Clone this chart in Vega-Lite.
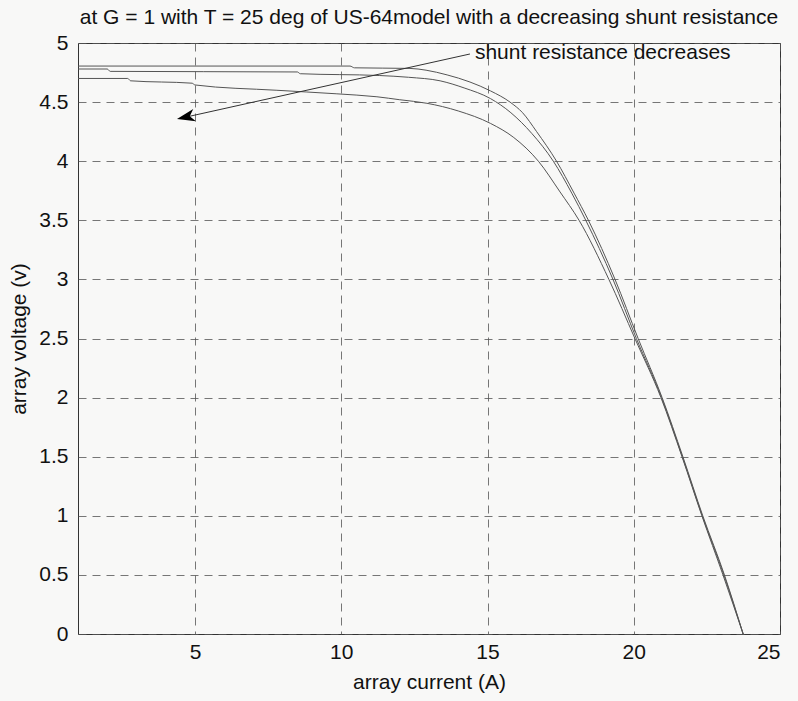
{
  "$schema": "https://vega.github.io/schema/vega-lite/v6.json",
  "width": 702,
  "height": 591,
  "autosize": {"type": "none"},
  "padding": {"left": 78, "top": 43, "right": 18, "bottom": 67},
  "background": "#f8f8f7",
  "title": {
    "text": "at G = 1 with T = 25 deg of US-64model with a decreasing shunt resistance",
    "font": "Liberation Sans",
    "fontSize": 21,
    "fontWeight": "normal",
    "color": "#111111",
    "anchor": "middle",
    "offset": 4
  },
  "config": {
    "view": {"stroke": "#333333", "strokeWidth": 1},
    "axis": {
      "labelFont": "Liberation Sans",
      "labelFontSize": 21,
      "labelColor": "#111111",
      "titleFont": "Liberation Sans",
      "titleFontSize": 21,
      "titleFontWeight": "normal",
      "titleColor": "#111111",
      "grid": true,
      "gridColor": "#555555",
      "gridOpacity": 0.8,
      "gridDash": [8, 6],
      "gridWidth": 1,
      "ticks": false,
      "domain": false
    }
  },
  "datasets": {
    "curves": [
      {"series": "A", "I": 1, "V": 4.805},
      {"series": "A", "I": 10.3, "V": 4.805},
      {"series": "A", "I": 10.45, "V": 4.79},
      {"series": "A", "I": 12.35, "V": 4.785},
      {"series": "A", "I": 12.9, "V": 4.77},
      {"series": "A", "I": 13.62, "V": 4.73},
      {"series": "A", "I": 14.4, "V": 4.67},
      {"series": "A", "I": 15.1, "V": 4.595},
      {"series": "A", "I": 15.77, "V": 4.5},
      {"series": "A", "I": 16.2, "V": 4.41},
      {"series": "A", "I": 16.68, "V": 4.25},
      {"series": "A", "I": 17.36, "V": 4.0},
      {"series": "A", "I": 17.96, "V": 3.73},
      {"series": "A", "I": 18.45, "V": 3.5},
      {"series": "A", "I": 19.36, "V": 3.0},
      {"series": "A", "I": 20.15, "V": 2.5},
      {"series": "A", "I": 20.97, "V": 2.0},
      {"series": "A", "I": 21.68, "V": 1.5},
      {"series": "A", "I": 22.36, "V": 1.0},
      {"series": "A", "I": 23.1, "V": 0.5},
      {"series": "A", "I": 23.74, "V": 0},
      {"series": "B", "I": 1, "V": 4.78},
      {"series": "B", "I": 2.0, "V": 4.78},
      {"series": "B", "I": 2.1, "V": 4.76},
      {"series": "B", "I": 8.5, "V": 4.755},
      {"series": "B", "I": 8.6, "V": 4.74},
      {"series": "B", "I": 11.3, "V": 4.725},
      {"series": "B", "I": 12.3, "V": 4.71},
      {"series": "B", "I": 13.38, "V": 4.68},
      {"series": "B", "I": 14.2, "V": 4.62},
      {"series": "B", "I": 15.1, "V": 4.53},
      {"series": "B", "I": 15.8, "V": 4.41},
      {"series": "B", "I": 16.51, "V": 4.236},
      {"series": "B", "I": 17.25, "V": 4.0},
      {"series": "B", "I": 17.88, "V": 3.73},
      {"series": "B", "I": 18.36, "V": 3.5},
      {"series": "B", "I": 19.29, "V": 3.0},
      {"series": "B", "I": 20.09, "V": 2.5},
      {"series": "B", "I": 20.95, "V": 2.0},
      {"series": "B", "I": 21.66, "V": 1.5},
      {"series": "B", "I": 22.34, "V": 1.0},
      {"series": "B", "I": 23.08, "V": 0.5},
      {"series": "B", "I": 23.74, "V": 0},
      {"series": "C", "I": 1, "V": 4.7},
      {"series": "C", "I": 2.7, "V": 4.7},
      {"series": "C", "I": 2.8, "V": 4.68},
      {"series": "C", "I": 4.9, "V": 4.66},
      {"series": "C", "I": 5.0, "V": 4.645},
      {"series": "C", "I": 7.8, "V": 4.6},
      {"series": "C", "I": 9.85, "V": 4.57},
      {"series": "C", "I": 11.22, "V": 4.545},
      {"series": "C", "I": 12.0, "V": 4.52},
      {"series": "C", "I": 12.93, "V": 4.49},
      {"series": "C", "I": 14.0, "V": 4.425},
      {"series": "C", "I": 15.1, "V": 4.32},
      {"series": "C", "I": 15.9, "V": 4.2},
      {"series": "C", "I": 16.74, "V": 4.0},
      {"series": "C", "I": 17.48, "V": 3.74},
      {"series": "C", "I": 18.13, "V": 3.5},
      {"series": "C", "I": 19.15, "V": 3.0},
      {"series": "C", "I": 20.04, "V": 2.5},
      {"series": "C", "I": 20.93, "V": 2.0},
      {"series": "C", "I": 21.65, "V": 1.5},
      {"series": "C", "I": 22.33, "V": 1.0},
      {"series": "C", "I": 23.05, "V": 0.5},
      {"series": "C", "I": 23.74, "V": 0}
    ],
    "note": [
      {"label": "shunt resistance decreases", "tx": 14.57, "ty": 4.915, "x1": 14.4, "y1": 4.907, "x2": 4.685, "y2": 4.373}
    ]
  },
  "layer": [
    {
      "data": {"name": "curves"},
      "mark": {"type": "line", "color": "#555555", "strokeWidth": 1, "clip": true, "interpolate": "monotone"},
      "encoding": {
        "x": {
          "field": "I", "type": "quantitative",
          "scale": {"domain": [1, 25], "nice": false, "zero": false},
          "axis": {"title": "array current (A)", "values": [5, 10, 15, 20, 25], "labelPadding": 7, "titlePadding": 9}
        },
        "y": {
          "field": "V", "type": "quantitative",
          "scale": {"domain": [0, 5], "nice": false},
          "axis": {"title": "array voltage (v)", "format": "~g", "values": [0, 0.5, 1, 1.5, 2, 2.5, 3, 3.5, 4, 4.5, 5], "labelPadding": 10, "titlePadding": 9}
        },
        "detail": {"field": "series"}
      }
    },
    {
      "data": {"name": "note"},
      "mark": {"type": "rule", "color": "#333333", "strokeWidth": 1},
      "encoding": {
        "x": {"field": "x1", "type": "quantitative"},
        "y": {"field": "y1", "type": "quantitative"},
        "x2": {"field": "x2"},
        "y2": {"field": "y2"}
      }
    },
    {
      "data": {"name": "note"},
      "mark": {"type": "point", "shape": "M0,-1L0.7,1L0,0.45L-0.7,1Z", "filled": true, "color": "#000000", "size": 324, "angle": 257.6, "opacity": 1},
      "encoding": {
        "x": {"field": "x2", "type": "quantitative"},
        "y": {"field": "y2", "type": "quantitative"}
      }
    },
    {
      "data": {"name": "note"},
      "mark": {"type": "text", "align": "left", "baseline": "middle", "font": "Liberation Sans", "fontSize": 21, "color": "#111111"},
      "encoding": {
        "x": {"field": "tx", "type": "quantitative"},
        "y": {"field": "ty", "type": "quantitative"},
        "text": {"field": "label"}
      }
    }
  ]
}
